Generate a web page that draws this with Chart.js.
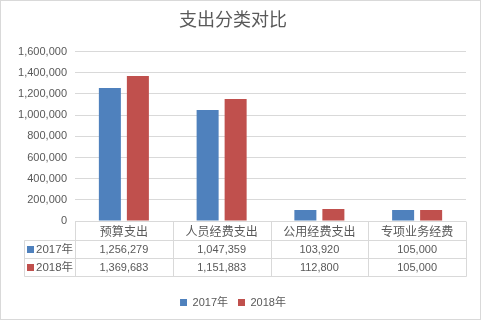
<!DOCTYPE html>
<html>
<head>
<meta charset="utf-8">
<script src="https://cdn.jsdelivr.net/npm/chart.js@4/dist/chart.umd.min.js"></script>
<style>
html,body{margin:0;padding:0;background:#fff;}
#wrap{width:482px;height:322px;position:relative;}
</style>
</head>
<body>
<div id="wrap"><canvas id="c" width="482" height="322"></canvas></div>
<script>
const title = '支出分类对比';
const categories = ['预算支出', '人员经费支出', '公用经费支出', '专项业务经费'];
const seriesNames = ['2017年', '2018年'];
const values2017 = [1256279, 1047359, 103920, 105000];
const values2018 = [1369683, 1151883, 112800, 105000];
const yTicks = [0, 200000, 400000, 600000, 800000, 1000000, 1200000, 1400000, 1600000];

const COLORS = ['#4F81BD', '#C0504D'];
const TEXT = '#595959';
const LINE = '#d9d9d9';
const FONT = "'Liberation Sans', 'Noto Sans CJK SC', sans-serif";
const fmt = v => v.toLocaleString('en-US');

const tablePlugin = {
  id: 'dataTable',
  beforeDraw(chart) {
    const ctx = chart.ctx;
    ctx.save();
    ctx.fillStyle = '#fff';
    ctx.fillRect(0, 0, chart.width, chart.height);
    ctx.strokeStyle = LINE;
    ctx.lineWidth = 1;
    ctx.strokeRect(0.5, 0.5, 480, 319);
    ctx.restore();
  },
  afterDraw(chart) {
    const ctx = chart.ctx;
    const xs = chart.scales.x;
    const top = Math.round(chart.chartArea.bottom) + 0.5;
    const r1 = top + 19, r2 = top + 37, r3 = top + 55;
    const right = Math.round(xs.right) + 0.5;
    const colW = (xs.right - xs.left) / categories.length;
    const legLeft = 24.5;
    ctx.save();
    ctx.strokeStyle = LINE;
    ctx.lineWidth = 1;
    ctx.beginPath();
    ctx.moveTo(legLeft, r1); ctx.lineTo(right, r1);
    ctx.moveTo(legLeft, r2); ctx.lineTo(right, r2);
    ctx.moveTo(legLeft, r3); ctx.lineTo(right, r3);
    ctx.moveTo(legLeft, r1); ctx.lineTo(legLeft, r3);
    for (let i = 0; i <= categories.length; i++) {
      const x = Math.round(xs.left + i * colW) + 0.5;
      ctx.moveTo(x, top); ctx.lineTo(x, r3);
    }
    ctx.stroke();

    const rows = [values2017, values2018];
    ctx.textBaseline = 'middle';
    rows.forEach((vals, r) => {
      const cy = (r === 0 ? (r1 + r2) / 2 : (r2 + r3) / 2);
      ctx.font = '11px ' + FONT;
      ctx.textAlign = 'center';
      ctx.fillStyle = TEXT;
      vals.forEach((v, i) => {
        ctx.fillText(fmt(v), xs.left + (i + 0.5) * colW, cy);
      });
      ctx.fillStyle = COLORS[r];
      ctx.fillRect(27, Math.round(cy) - 4, 7, 7);
      ctx.fillStyle = TEXT;
      ctx.textAlign = 'left';
      ctx.font = '11.5px ' + FONT;
      ctx.fillText(seriesNames[r], 36, cy);
    });
    ctx.restore();
  }
};

new Chart(document.getElementById('c'), {
  type: 'bar',
  data: {
    labels: categories,
    datasets: [
      { label: seriesNames[0], data: values2017, backgroundColor: COLORS[0], categoryPercentage: 0.573, barPercentage: 0.786 },
      { label: seriesNames[1], data: values2018, backgroundColor: COLORS[1], categoryPercentage: 0.573, barPercentage: 0.786 }
    ]
  },
  options: {
    responsive: false,
    animation: false,
    devicePixelRatio: 1,
    layout: { padding: { left: 0, right: 16, top: 0, bottom: 4 } },
    plugins: {
      title: {
        display: true, text: title, color: TEXT,
        font: { family: FONT, size: 18, weight: 'normal' },
        padding: { top: 10, bottom: 20 }
      },
      legend: {
        position: 'bottom',
        labels: {
          color: TEXT, boxWidth: 7, boxHeight: 7, padding: 10,
          font: { family: FONT, size: 11 }
        }
      },
      tooltip: { enabled: false }
    },
    scales: {
      x: {
        grid: { display: false },
        border: { display: false },
        ticks: { color: TEXT, font: { family: FONT, size: 12 }, padding: -4, maxRotation: 0, autoSkip: false },
        afterFit(scale) { scale.height = 66; }
      },
      y: {
        min: 0, max: 1600000,
        afterBuildTicks(scale) { scale.ticks = yTicks.map(v => ({ value: v })); },
        grid: { color: LINE, drawTicks: false },
        border: { display: false },
        ticks: { color: TEXT, font: { family: FONT, size: 11 }, padding: 8, callback: v => fmt(v) },
        afterFit(scale) { scale.width = 75; }
      }
    }
  },
  plugins: [tablePlugin]
});
</script>
</body>
</html>
